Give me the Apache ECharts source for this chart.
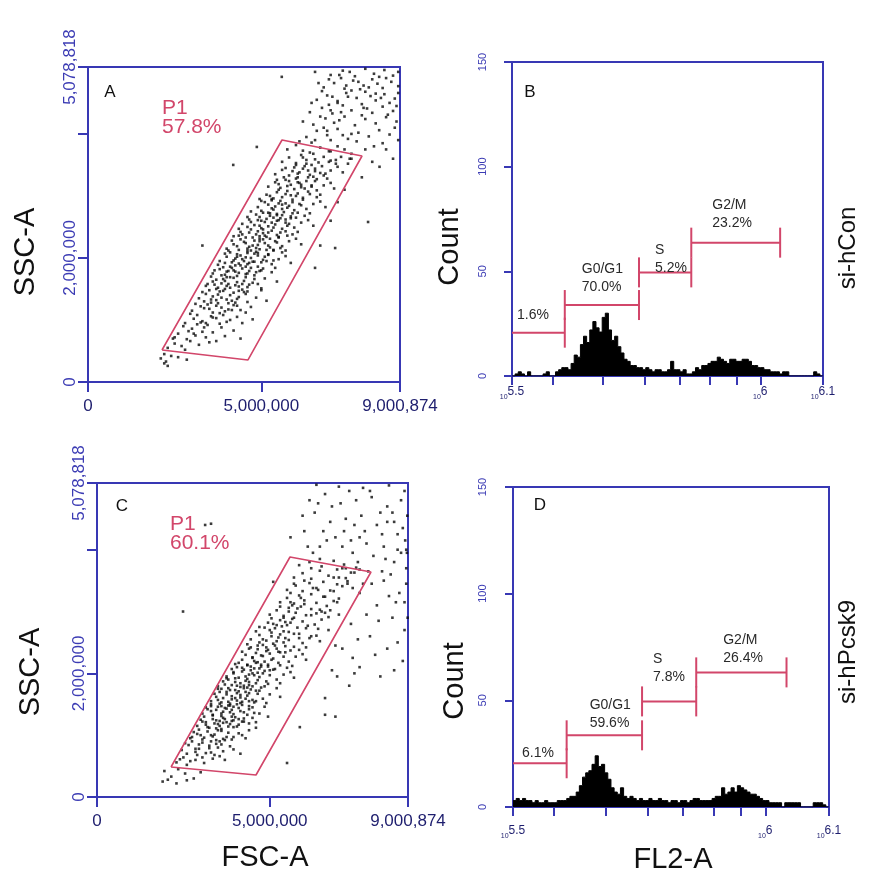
<!DOCTYPE html>
<html><head><meta charset="utf-8">
<script src="https://cdn.jsdelivr.net/npm/echarts@6/dist/echarts.min.js"></script>
<style>html,body{margin:0;padding:0;background:#fff}#c{width:886px;height:874px}</style>
</head><body><div id="c"></div>
<script>
// ---------- Axis ticks / labels (FSC/SSC in millions, FL2 as log10 exponent) ----------
const fscTicks = [0, 5, 9.000874];
const sscTickMarks = [0, 2, 4, 5.078818];
const sscLabels = [0, 2, 5.078818];
const countTicks = [0, 50, 100, 150];
const fl2TickMarks = [5.525, 5.60206, 5.69897, 5.77815, 5.84510, 5.90309, 5.95424, 6.0, 6.12];
const fl2LabelVals = [5.525, 6.0, 6.12];
const fl2LabelText = ['5.5', '6', '6.1'];

// ---------- P1 gates (FSC-A, SSC-A in millions) ----------
const gateA = [[2.135,0.516],[5.597,3.902],[7.905,3.644],[4.616,0.355],[2.135,0.516]];
const gateC = [[2.142,0.485],[5.586,3.882],[7.930,3.639],[4.602,0.356],[2.142,0.485]];

// ---------- Scatter events, panel A (si-hCon) ----------
const aInGate = [
[2.1,0.38],[2.25,0.33],[2.4,0.42],[2.6,0.4],[2.85,0.36],[2.2,0.45],
[2.3,0.55],[2.5,0.62],[2.7,0.58],[2.95,0.66],[3.2,0.6],[2.45,0.7],[3.5,0.64],[2.8,0.52],
[2.6,0.78],[2.9,0.82],[3.1,0.75],[3.35,0.88],[2.75,0.9],[3.6,0.8],[3.0,0.86],[2.5,0.72],
[2.8,0.95],[3.05,1.02],[3.3,0.98],[3.55,1.06],[3.8,0.94],[3.15,1.08],[2.95,1.1],[3.7,1.03],[4.1,1.0],[3.45,0.92],
[3.0,1.15],[3.25,1.22],[3.5,1.18],[3.75,1.27],[3.95,1.14],[3.35,1.3],[3.6,1.12],[4.2,1.24],[3.1,1.26],[3.85,1.2],[4.4,1.16],[3.45,1.25],
[3.2,1.35],[3.4,1.42],[3.6,1.38],[3.8,1.46],[4.0,1.33],[4.2,1.44],[3.5,1.48],[3.7,1.32],[3.95,1.5],[4.35,1.37],[3.3,1.45],[4.55,1.42],[4.1,1.4],[3.85,1.36],
[3.4,1.55],[3.6,1.62],[3.75,1.52],[3.9,1.66],[4.05,1.58],[4.2,1.68],[4.35,1.54],[4.5,1.63],[3.55,1.7],[3.85,1.59],[4.1,1.52],[4.65,1.57],[3.7,1.65],[4.3,1.61],[4.0,1.69],[4.8,1.66],
[3.6,1.75],[3.8,1.82],[3.95,1.73],[4.1,1.86],[4.25,1.78],[4.4,1.88],[4.55,1.74],[4.7,1.84],[3.75,1.89],[4.05,1.79],[4.3,1.71],[4.6,1.9],[4.85,1.77],[3.9,1.85],[4.2,1.8],[4.45,1.83],[5.0,1.8],
[3.8,1.95],[4.0,2.02],[4.15,1.93],[4.3,2.06],[4.45,1.98],[4.6,2.08],[4.75,1.94],[4.9,2.04],[5.05,1.97],[4.1,2.09],[4.35,1.91],[4.55,2.01],[4.85,2.1],[5.2,2.05],[3.95,2.07],[4.25,1.99],[4.7,2.0],[5.35,1.96],
[4.0,2.15],[4.2,2.22],[4.35,2.13],[4.5,2.26],[4.65,2.18],[4.8,2.28],[4.95,2.14],[5.1,2.24],[5.25,2.17],[4.4,2.3],[4.6,2.11],[4.9,2.21],[5.4,2.27],[4.15,2.28],[4.75,2.2],[5.05,2.3],[5.55,2.16],
[4.2,2.35],[4.4,2.42],[4.55,2.33],[4.7,2.46],[4.85,2.38],[5.0,2.48],[5.15,2.34],[5.3,2.44],[5.45,2.37],[4.6,2.5],[4.95,2.31],[5.2,2.41],[5.6,2.47],[4.35,2.47],[5.05,2.4],[5.75,2.36],
[4.45,2.55],[4.65,2.62],[4.8,2.53],[4.95,2.66],[5.1,2.58],[5.25,2.68],[5.4,2.54],[5.55,2.64],[5.7,2.57],[4.85,2.7],[5.2,2.51],[5.5,2.61],[5.85,2.67],[5.0,2.6],[5.35,2.65],
[4.7,2.75],[4.9,2.82],[5.05,2.73],[5.2,2.86],[5.35,2.78],[5.5,2.88],[5.65,2.74],[5.8,2.84],[5.95,2.77],[5.1,2.9],[5.45,2.71],[5.75,2.81],[6.1,2.87],[5.3,2.8],
[4.95,2.95],[5.15,3.02],[5.3,2.93],[5.45,3.06],[5.6,2.98],[5.75,3.08],[5.9,2.94],[6.05,3.04],[6.2,2.97],[5.5,3.1],[5.85,3.01],[6.35,3.07],[5.25,3.0],
[5.2,3.15],[5.4,3.22],[5.55,3.13],[5.7,3.26],[5.85,3.18],[6.0,3.28],[6.15,3.14],[6.3,3.24],[6.45,3.17],[5.65,3.3],[6.1,3.21],[6.6,3.27],[5.95,3.11],
[5.4,3.35],[5.6,3.42],[5.8,3.33],[5.95,3.46],[6.1,3.38],[6.25,3.48],[6.4,3.34],[6.55,3.44],[6.7,3.37],[6.0,3.5],[6.35,3.41],[6.85,3.36],
[5.6,3.55],[5.8,3.62],[6.0,3.53],[6.15,3.66],[6.3,3.58],[6.5,3.68],[6.65,3.54],[6.8,3.63],[7.0,3.57],[6.4,3.7],[7.15,3.52],
[5.75,3.75],[6.0,3.82],[6.2,3.73],[6.45,3.86],[6.7,3.78],[6.95,3.72],[7.2,3.8],[7.4,3.75],[6.1,3.88]
];
const aCore = [
[3.55,1.33],[3.9,1.47],[4.15,1.31],[4.45,1.49],[3.65,1.57],[3.95,1.63],[4.25,1.56],[4.55,1.69],[4.75,1.6],[3.85,1.72],
[4.15,1.84],[4.35,1.76],[4.65,1.79],[4.9,1.86],[4.0,1.78],[4.2,1.96],[4.4,2.04],[4.65,1.92],[4.8,2.07],[5.1,2.02],
[4.5,1.95],[4.3,2.19],[4.55,2.24],[4.7,2.12],[4.95,2.27],[5.2,2.2],[5.35,2.12],[4.45,2.38],[4.75,2.33],[4.9,2.43],
[5.1,2.36],[5.35,2.49],[5.55,2.41],[4.7,2.58],[4.95,2.52],[5.15,2.63],[5.3,2.57],[5.6,2.69],[5.75,2.52],[5.0,2.76],
[5.25,2.72],[5.4,2.83],[5.6,2.79],[5.9,2.72],[5.35,2.96],[5.55,2.92],[5.7,3.03],[6.0,3.0],[5.5,3.19],[5.8,3.24],
[6.05,3.3],[6.25,3.12],[5.7,3.45],[6.05,3.36],[6.3,3.52],[6.55,3.4],[6.2,3.62],[6.55,3.59],[3.35,1.19],[3.6,1.04],
[3.9,1.08],[3.25,0.96],[3.05,0.78],[3.4,0.72],[3.7,1.23],[4.05,1.27],[4.3,1.34],[3.75,1.41],[4.45,1.58],[4.1,1.69],
[4.6,1.75],[5.0,1.93],[4.85,2.16],[5.05,2.46],[5.45,2.6],[5.7,2.88],[6.15,3.18],[6.45,3.5]
];
const aRight = [
[3.7,0.66],[3.95,0.74],[4.2,0.83],[3.85,0.88],[4.4,0.7],
[4.0,0.97],[4.3,1.05],[4.55,1.12],[4.15,1.16],[4.75,1.01],[4.45,0.95],
[4.3,1.23],[4.6,1.29],[4.85,1.36],[4.5,1.45],[5.0,1.48],[4.7,1.21],[5.15,1.31],
[4.6,1.53],[4.9,1.58],[5.1,1.67],[4.8,1.72],[5.3,1.77],[5.0,1.51],[5.45,1.62],[4.95,1.79],
[5.05,1.83],[5.3,1.9],[5.5,1.98],[5.2,2.06],[5.7,2.03],[5.4,1.84],[5.85,1.92],[5.6,2.09],[5.15,1.95],
[5.35,2.13],[5.6,2.19],[5.8,2.27],[5.5,2.34],[6.0,2.31],[5.7,2.12],[6.15,2.22],[5.9,2.38],[5.45,2.25],
[5.7,2.43],[5.95,2.49],[6.15,2.57],[5.85,2.64],[6.35,2.61],[6.05,2.42],[6.5,2.52],[6.25,2.68],[5.8,2.55],
[6.05,2.73],[6.3,2.79],[6.5,2.87],[6.2,2.94],[6.7,2.91],[6.4,2.72],[6.85,2.82],[6.6,2.98],[6.15,2.85],
[6.4,3.03],[6.6,3.09],[6.8,3.17],[6.55,3.24],[7.0,3.21],[6.7,3.02],[7.1,3.12],[6.9,3.28],[6.45,3.15],
[6.8,3.33],[7.0,3.41],[7.2,3.47],[6.95,3.55],[7.35,3.38],[7.5,3.52],[7.15,3.58],
[7.3,3.63],[7.6,3.68],[7.55,3.6],[7.0,3.72]
];
const aFill = [
[3.45,1.58],[3.7,1.5],[4.0,1.55],[4.35,1.47],[4.6,1.46],[3.65,1.8],[3.95,1.92],[4.25,1.88],[4.55,1.86],[4.8,1.94],
[4.05,2.12],[4.3,2.02],[4.6,2.15],[4.9,2.08],[5.15,2.13],[4.35,2.36],[4.65,2.41],[4.95,2.35],[5.25,2.31],[5.5,2.33],
[4.6,2.66],[4.9,2.61],[5.2,2.73],[5.45,2.69],[5.7,2.62],[5.0,2.92],[5.3,2.95],[5.6,2.86],[5.9,2.9],[6.0,2.65],
[5.45,3.26],[5.75,3.16],[6.05,3.22],[6.35,3.3],[5.9,3.4],[6.2,3.44],[6.5,3.31],[6.75,3.48],[3.4,0.95],[3.15,0.93],
[2.85,0.69],[3.3,0.81],[3.8,1.11],[4.05,1.17],[3.55,1.28],[4.25,1.28]
];
const aOutside = [
[6.3,3.95],[6.6,4.05],[6.9,3.98],[7.2,4.08],[7.5,3.92],[7.8,4.02],[8.1,3.96],[8.4,4.06],[6.8,4.1],[7.6,4.0],[8.7,3.99],[7.0,3.9],
[6.2,4.2],[6.5,4.15],[6.85,4.25],[7.1,4.18],[7.4,4.28],[7.7,4.14],[8.0,4.24],[8.3,4.17],[8.6,4.27],[8.9,4.2],[7.25,4.22],[7.9,4.3],[6.7,4.28],
[6.4,4.35],[6.75,4.42],[7.05,4.33],[7.35,4.46],[7.6,4.38],[7.9,4.48],[8.2,4.34],[8.5,4.44],[8.8,4.37],[7.2,4.5],[8.05,4.41],[6.95,4.47],[8.65,4.31],
[6.6,4.55],[6.9,4.62],[7.2,4.53],[7.45,4.66],[7.75,4.58],[8.0,4.68],[8.3,4.54],[8.55,4.64],[8.85,4.57],[7.6,4.7],[8.15,4.61],[6.75,4.69],[8.95,4.66],[7.05,4.6],
[6.8,4.75],[7.1,4.82],[7.4,4.73],[7.65,4.86],[7.95,4.78],[8.2,4.88],[8.5,4.74],[8.75,4.84],[8.95,4.77],[7.3,4.9],[8.35,4.81],[7.85,4.72],
[7.0,4.95],[7.35,5.02],[7.7,4.93],[8.0,5.05],[8.25,4.97],[8.55,5.03],[8.8,4.94],[7.55,5.0],[8.4,4.92],[6.55,5.0],
[6.45,4.5],[6.65,4.82],[7.25,4.95],[7.8,4.84],[8.1,4.75],[8.45,4.58],[8.7,4.5],[8.9,4.45],[8.95,5.0],[8.6,4.9],
[7.95,4.42],[7.5,4.6],[7.3,4.35],[7.0,4.38],[6.9,4.05],[7.35,3.98],[7.75,3.88],[8.25,3.8],[8.6,3.75],[8.85,4.1],
[6.55,3.9],[8.3,4.65],[7.45,4.78],[6.95,4.88],
[6.7,2.2],[7.0,2.6],[7.4,3.1],[7.9,3.3],[8.08,2.58],[8.41,3.47],[7.6,3.6],[8.0,3.75],[8.5,3.85],[8.8,3.6],[7.2,2.9],[6.55,1.84],[8.95,3.9],[8.2,3.55],[7.13,2.16],
[4.19,3.5],[4.87,3.79],[5.59,4.92],[3.3,2.2],[2.2,0.3],[2.3,0.26]
];

// ---------- Scatter events, panel C (si-hPcsk9) ----------
const cInGate = [
[1.95,0.42],[2.15,0.33],[2.35,0.45],[2.55,0.38],[2.8,0.3],[2.05,0.28],[3.0,0.4],
[2.3,0.56],[2.5,0.64],[2.7,0.58],[2.9,0.68],[3.1,0.55],[3.35,0.62],[2.6,0.7],[3.55,0.66],[2.4,0.61],
[2.45,0.76],[2.65,0.84],[2.85,0.73],[3.05,0.88],[3.25,0.79],[3.45,0.86],[3.65,0.74],[2.75,0.9],[3.15,0.71],[3.85,0.82],[2.55,0.87],
[2.7,0.95],[2.9,1.02],[3.05,0.93],[3.2,1.06],[3.35,0.98],[3.5,1.08],[3.65,0.94],[3.8,1.04],[2.95,1.09],[3.3,1.0],[3.95,0.97],[3.6,1.1],[2.8,1.05],[3.45,0.92],[4.1,1.03],
[2.9,1.15],[3.05,1.22],[3.2,1.13],[3.35,1.26],[3.5,1.18],[3.65,1.28],[3.8,1.14],[3.95,1.24],[4.1,1.17],[3.1,1.3],[3.45,1.11],[3.75,1.21],[4.25,1.27],[3.0,1.25],[3.55,1.23],[3.9,1.3],[4.4,1.19],
[3.05,1.35],[3.2,1.42],[3.35,1.33],[3.5,1.46],[3.65,1.38],[3.8,1.48],[3.95,1.34],[4.1,1.44],[4.25,1.37],[3.3,1.5],[3.6,1.31],[3.9,1.41],[4.4,1.47],[3.15,1.45],[3.75,1.43],[4.05,1.5],[4.55,1.36],
[3.3,1.55],[3.45,1.62],[3.6,1.53],[3.75,1.66],[3.9,1.58],[4.05,1.68],[4.2,1.54],[4.35,1.64],[4.5,1.57],[3.55,1.7],[3.85,1.51],[4.15,1.61],[4.65,1.67],[3.4,1.67],[4.0,1.6],[4.3,1.7],
[3.5,1.75],[3.7,1.82],[3.85,1.73],[4.0,1.86],[4.15,1.78],[4.3,1.88],[4.45,1.74],[4.6,1.84],[4.75,1.77],[3.8,1.9],[4.1,1.71],[4.4,1.81],[4.9,1.87],[3.65,1.87],[4.25,1.8],
[3.75,1.95],[3.95,2.02],[4.1,1.93],[4.25,2.06],[4.4,1.98],[4.55,2.08],[4.7,1.94],[4.85,2.04],[5.0,1.97],[4.05,2.1],[4.35,1.91],[4.65,2.01],[5.15,2.07],[4.5,2.0],
[4.0,2.15],[4.2,2.22],[4.35,2.13],[4.5,2.26],[4.65,2.18],[4.8,2.28],[4.95,2.14],[5.1,2.24],[5.25,2.17],[4.3,2.3],[4.75,2.11],[5.4,2.27],[4.55,2.2],
[4.2,2.35],[4.45,2.42],[4.6,2.33],[4.8,2.46],[4.95,2.38],[5.1,2.48],[5.3,2.34],[5.45,2.44],[4.7,2.5],[5.2,2.4],[5.6,2.37],[4.35,2.47],
[4.45,2.55],[4.7,2.62],[4.9,2.53],[5.05,2.66],[5.25,2.58],[5.4,2.68],[5.55,2.54],[5.7,2.64],[5.0,2.7],[5.85,2.57],[4.6,2.68],
[4.7,2.75],[4.95,2.82],[5.15,2.73],[5.3,2.86],[5.5,2.78],[5.65,2.88],[5.8,2.74],[5.95,2.84],[5.4,2.9],[6.1,2.77],[5.05,2.89],
[5.0,2.95],[5.2,3.02],[5.4,2.93],[5.55,3.06],[5.75,2.98],[5.9,3.08],[6.05,2.94],[6.2,3.04],[5.65,3.1],[6.35,2.97],
[5.3,3.15],[5.5,3.22],[5.7,3.13],[5.85,3.26],[6.0,3.18],[6.2,3.28],[6.35,3.14],[6.55,3.24],[5.6,3.3],
[5.5,3.35],[5.75,3.42],[5.95,3.33],[6.15,3.46],[6.35,3.38],[6.55,3.48],[6.75,3.34],[6.95,3.44],
[5.7,3.55],[5.95,3.62],[6.2,3.53],[6.45,3.66],[6.7,3.58],[6.95,3.68],[7.2,3.54],[7.45,3.63],
[5.85,3.75],[6.15,3.8],[6.5,3.73],[6.85,3.82],[7.15,3.76],[7.5,3.71]
];
const cCore = [
[3.1,0.96],[3.4,1.01],[3.6,1.07],[3.25,1.12],[3.55,1.15],[3.85,1.18],[3.15,1.21],[3.45,1.24],[3.7,1.26],[4.0,1.29],
[3.35,1.32],[3.6,1.35],[3.85,1.37],[4.15,1.39],[3.45,1.41],[3.7,1.44],[3.95,1.46],[4.2,1.49],[3.55,1.51],[3.8,1.54],
[4.05,1.56],[4.3,1.59],[3.65,1.6],[3.9,1.63],[4.15,1.65],[4.4,1.68],[3.75,1.7],[4.0,1.73],[4.25,1.76],[4.5,1.79],
[3.9,1.81],[4.15,1.84],[4.4,1.86],[4.65,1.89],[4.0,1.92],[4.3,1.95],[4.55,1.97],[4.8,2.0],[4.2,2.03],[4.45,2.05],
[4.7,2.08],[4.95,2.11],[4.35,2.14],[4.6,2.17],[4.85,2.19],[5.05,2.22],[4.5,2.25],[4.75,2.29],[5.0,2.32],[5.25,2.35],
[4.65,2.39],[4.9,2.42],[5.15,2.45],[5.4,2.5],[4.8,2.55],[5.05,2.6],[5.3,2.63],[5.55,2.67],[5.2,2.78],[5.45,2.83],
[5.7,2.9],[5.55,3.0],[5.8,3.05],[6.0,3.12],[2.95,0.85],[3.25,0.83],[2.85,0.78],[3.55,0.9],[3.0,1.0],[2.75,0.97],
[3.75,0.97],[3.95,1.13],[4.2,1.22],[4.35,1.33],[4.5,1.45],[4.6,1.55],[3.3,1.39],[3.5,1.57],[3.6,1.75],[3.75,1.92],
[3.95,2.0],[4.1,2.17]
];
const cRight = [
[3.4,0.68],[3.7,0.6],[3.95,0.77],[3.6,0.85],[4.15,0.7],
[3.9,0.93],[4.2,1.0],[4.4,1.08],[4.05,1.14],[4.6,1.12],[4.3,0.95],
[4.25,1.22],[4.5,1.28],[4.7,1.35],[4.4,1.42],[4.85,1.46],[4.6,1.21],[4.95,1.3],
[4.55,1.53],[4.8,1.59],[5.0,1.66],[4.7,1.72],[5.2,1.76],[4.9,1.52],[5.3,1.62],[4.85,1.79],
[4.95,1.83],[5.2,1.9],[5.4,1.98],[5.1,2.06],[5.6,2.02],[5.3,1.84],[5.7,1.93],[5.5,2.09],
[5.3,2.13],[5.55,2.19],[5.75,2.27],[5.45,2.34],[5.95,2.31],[5.65,2.12],[6.05,2.22],[5.85,2.38],
[5.7,2.43],[5.95,2.49],[6.15,2.57],[5.85,2.64],[6.35,2.61],[6.05,2.42],[6.45,2.52],
[6.05,2.73],[6.3,2.79],[6.5,2.87],[6.2,2.94],[6.7,2.91],[6.4,2.72],[6.6,2.98],
[6.45,3.03],[6.65,3.09],[6.85,3.17],[6.6,3.24],[7.0,3.21],[6.75,3.02],
[6.85,3.33],[7.1,3.41],[7.25,3.49],[7.0,3.55],[7.4,3.38],
[7.35,3.63],[7.6,3.68],[7.1,3.7]
];
const cFill = [
[2.6,0.52],[2.85,0.6],[3.05,0.64],[3.3,0.72],[2.95,0.78],[3.5,0.8],[3.3,0.9],[3.7,0.92],[3.15,1.17],[3.4,1.19],
[3.65,1.2],[3.9,1.23],[4.1,1.26],[3.3,1.47],[3.6,1.47],[3.85,1.48],[4.15,1.52],[4.4,1.55],[3.5,1.79],[3.8,1.76],
[4.05,1.8],[4.35,1.77],[4.6,1.72],[3.9,2.07],[4.2,2.09],[4.45,2.11],[4.75,2.14],[5.0,2.05],[4.4,2.4],[4.65,2.45],
[4.9,2.36],[5.2,2.52],[5.45,2.57],[4.85,2.74],[5.1,2.8],[5.35,2.76],[5.6,2.82],[5.3,3.08],[5.6,3.15],[5.9,3.22],
[5.7,3.45],[6.0,3.5],[6.25,3.38]
];
const cOutside = [
[6.0,4.3],[6.3,4.6],[6.6,4.9],[6.9,4.2],[7.2,4.5],[7.5,4.8],[7.8,4.1],[8.1,4.4],[8.4,4.7],[8.7,4.0],
[8.9,4.95],[6.45,4.05],[6.75,4.45],[7.05,4.75],[7.35,4.15],[7.65,4.55],[7.95,4.85],[8.25,4.25],[8.55,4.6],[8.85,4.35],
[6.15,4.8],[7.0,5.02],[7.7,5.0],[8.45,5.04],[6.25,3.95],[7.4,3.95],[8.0,3.9],[8.6,3.8],[8.95,3.7],[7.85,3.65],
[8.3,3.5],[8.75,3.3],[7.6,3.3],[8.1,3.1],[8.55,2.9],[8.9,2.7],[7.35,2.8],[7.9,2.6],[8.4,2.4],[8.85,2.2],
[7.1,2.4],[7.6,2.1],[8.2,1.95],[6.8,2.05],[7.3,1.8],[6.6,1.6],[6.9,1.3],[6.6,1.33],[5.87,1.13],[5.5,0.55],
[6.5,3.0],[6.95,3.15],[7.25,3.45],[6.7,2.7],[7.55,2.55],[8.15,2.85],[8.65,3.15],[8.95,3.45],[8.35,3.85],[7.1,4.05],
[6.55,4.3],[5.95,4.55],[6.35,5.05],[5.6,4.2],[5.1,3.48],[2.49,3.0],[3.13,4.4],[3.3,4.42],
[8.98,4.55],[8.92,4.15],[8.97,3.95],[8.9,3.15],[8.99,2.9],[8.8,4.8],[8.6,4.45],[7.75,4.3],[8.3,4.05],[7.45,4.4],
[6.85,3.55],[7.95,3.45],[8.5,3.6],[7.2,3.7],[6.4,3.35],[7.8,2.95],[8.7,2.5],[6.2,2.6],[6.95,1.95],[7.4,2.25],
[7.9,4.95],[8.2,4.6],[7.6,4.2],[6.8,4.7],[7.3,4.95],[8.7,4.25],[8.95,4.0],[6.4,4.75],[6.1,4.05],[7.7,3.45],
[8.45,3.25],[8.05,2.3],[8.6,2.05],[7.45,2.0],[7.0,2.95],[6.9,2.45],[8.8,3.95],[8.4,4.45],[7.15,4.3],[6.65,4.15],
[6.2,3.7],[6.45,3.85],[8.25,3.65],[7.55,3.8],
[1.9,0.25],[2.3,0.22],[2.6,0.27]
];

// ---------- FL2-A histograms (bin = 0.00595 decade from 10^5.525) ----------
const histStart = 5.525;
const histBinW = 0.00595;
const countsB = [
0,1,2,1,0,2,0,0,0,0, 1,2,0,0,2,3,4,4,3,6,
10,9,15,19,16,22,26,23,21,28, 30,22,17,19,14,11,8,7,5,5,
4,4,3,4,3,2,3,3,2,2, 3,7,3,3,2,3,1,1,2,4,
3,5,5,6,7,7,9,8,7,6, 8,8,7,7,8,8,7,5,5,4,
4,3,3,2,2,2,1,2,2,0, 0,0,0,0,0,0,0,2,1,0
];
const countsD = [
3,4,3,4,3,3,2,3,2,2, 3,2,2,2,3,3,3,4,5,5,
7,10,14,16,17,20,24,19,20,16, 13,9,7,6,9,5,4,5,4,3,
4,3,3,4,3,3,4,3,3,2, 3,3,2,3,3,2,3,4,4,3,
3,3,3,4,5,5,9,6,7,9, 7,10,9,8,7,6,6,5,4,3,
3,2,2,2,2,0,2,2,2,2, 2,0,0,0,0,2,2,2,1,0
];

// ---------- Cell-cycle gates (FL2 exponent start/end, marker level in counts) ----------
const gateStartB = [5.525, 5.626, 5.768, 5.868];
const gateEndB   = [5.626, 5.768, 5.868, 6.038];
const gateLevelB = [20.7, 33.9, 49.5, 63.7];
const gateTextB  = ['1.6%', 'G0/G1\n70.0%', 'S\n5.2%', 'G2/M\n23.2%'];
const gateStartD = [5.525, 5.626, 5.768, 5.870];
const gateEndD   = [5.626, 5.768, 5.870, 6.040];
const gateLevelD = [20.5, 33.6, 49.5, 63.1];
const gateTextD  = ['6.1%', 'G0/G1\n59.6%', 'S\n7.8%', 'G2/M\n26.4%'];

// ---------- styles ----------
const FONT = '"Liberation Sans", Arial, sans-serif';
const AXIS_BLUE = '#3838b4';
const YLAB_BLUE = '#3c3cb4';
const XLAB_NAVY = '#1e1e6e';
const GATE_RED = '#d2466a';
const labelOffB = [[5,-18],[17,-27],[16,-13.5],[21,-29]];
const labelOffD = [[9,-10],[23,-21.5],[11,-33.5],[27,-23.5]];

function fmtBig(v){ return v === 0 ? '0' : Math.round(v*1e6).toLocaleString('en-US'); }
function fmtFl2(v){
  let best = 0;
  for (let i = 1; i < fl2LabelVals.length; i++) if (Math.abs(fl2LabelVals[i]-v) < Math.abs(fl2LabelVals[best]-v)) best = i;
  return '{s|10}{b|' + fl2LabelText[best] + '}';
}
function histData(counts){
  const d = counts.map((c,i) => [histStart + i*histBinW, c]);
  d.push([histStart + counts.length*histBinW, counts[counts.length-1]]);
  return d;
}
function gateData(s,e,l){ return s.map((v,i) => [v, e[i], l[i]]); }

const grids = [
  {left:88, top:67, width:312, height:315},
  {left:512, top:62, width:311, height:314},
  {left:97, top:483, width:311, height:314},
  {left:513, top:487, width:316, height:320}
].map(g => Object.assign(g, {show:true, borderColor:AXIS_BLUE, borderWidth:2, backgroundColor:'transparent'}));

function scatterX(gi){
  return {gridIndex:gi, type:'value', min:0, max:9.000874,
    axisLine:{show:true, onZero:false, lineStyle:{color:AXIS_BLUE, width:2}},
    axisTick:{show:true, customValues:fscTicks, length:10, lineStyle:{color:AXIS_BLUE, width:2}},
    axisLabel:{customValues:fscTicks, formatter:fmtBig, color:XLAB_NAVY, fontSize:17, fontFamily:FONT, margin:16},
    splitLine:{show:false}};
}
function scatterY(gi){
  return {gridIndex:gi, type:'value', min:0, max:5.078818,
    axisLine:{show:true, onZero:false, lineStyle:{color:AXIS_BLUE, width:2}},
    axisTick:{show:true, customValues:sscTickMarks, length:10, lineStyle:{color:AXIS_BLUE, width:2}},
    axisLabel:{customValues:sscLabels, formatter:fmtBig, rotate:90, color:YLAB_BLUE, fontSize:17, fontFamily:FONT, margin:9},
    splitLine:{show:false}};
}
function histX(gi, margin){
  return {gridIndex:gi, type:'value', min:5.525, max:6.12,
    axisLine:{show:true, onZero:false, lineStyle:{color:AXIS_BLUE, width:2}},
    axisTick:{show:true, customValues:fl2TickMarks, length:9, lineStyle:{color:AXIS_BLUE, width:2}},
    axisLabel:{customValues:fl2LabelVals, formatter:fmtFl2, margin:margin, color:XLAB_NAVY,
      rich:{s:{fontSize:7, fontFamily:FONT, color:XLAB_NAVY, lineHeight:8, verticalAlign:'bottom'},
            b:{fontSize:12, fontFamily:FONT, color:XLAB_NAVY, lineHeight:15, verticalAlign:'top'}}},
    splitLine:{show:false}};
}
function histY(gi, margin){
  return {gridIndex:gi, type:'value', min:0, max:150,
    axisLine:{show:true, onZero:false, lineStyle:{color:AXIS_BLUE, width:2}},
    axisTick:{show:true, customValues:countTicks, length:8, lineStyle:{color:AXIS_BLUE, width:2}},
    axisLabel:{customValues:countTicks, rotate:90, color:YLAB_BLUE, fontSize:11, fontFamily:FONT, margin:margin},
    splitLine:{show:false}};
}

function scatterSeries(idx, pts){
  return {type:'scatter', xAxisIndex:idx, yAxisIndex:idx, data:pts, symbol:'rect', symbolSize:2.6,
    itemStyle:{color:'#0a0a0a'}, silent:true, z:2};
}
function gateSeries(idx, pts){
  return {type:'line', xAxisIndex:idx, yAxisIndex:idx, data:pts, symbol:'none', silent:true, z:4,
    lineStyle:{color:GATE_RED, width:1.6}};
}
function histSeries(idx, counts){
  return {type:'line', xAxisIndex:idx, yAxisIndex:idx, data:histData(counts), step:'end', symbol:'none', silent:true, z:2,
    lineStyle:{color:'#000', width:1}, areaStyle:{color:'#000', opacity:1}};
}
function cycleGateSeries(idx, data, texts, offs){
  return {type:'custom', xAxisIndex:idx, yAxisIndex:idx, data:data, silent:true, z:5, clip:false,
    renderItem:function(params, api){
      const i = params.dataIndex;
      const s = api.coord([api.value(0), api.value(2)]);
      const e = api.coord([api.value(1), api.value(2)]);
      const h = 15;
      const st = {stroke:GATE_RED, lineWidth:2};
      const ch = [
        {type:'line', shape:{x1:s[0], y1:s[1], x2:e[0], y2:e[1]}, style:st},
        {type:'line', shape:{x1:e[0], y1:e[1]-h, x2:e[0], y2:e[1]+h}, style:st},
        {type:'text', x:s[0]+offs[i][0], y:s[1]+offs[i][1],
          style:{text:texts[i], fill:'#2a2a2a', fontSize:14, fontFamily:FONT, align:'left', verticalAlign:'middle', lineHeight:18}}
      ];
      if (i > 0) ch.push({type:'line', shape:{x1:s[0], y1:s[1]-h, x2:s[0], y2:s[1]+h}, style:st});
      return {type:'group', children:ch};
    }};
}

function txt(x, y, text, size, opts){
  return Object.assign({type:'text', x:x, y:y, silent:true,
    style:{text:text, fontSize:size, fontFamily:FONT, fill:'#111', align:'center', verticalAlign:'middle'}}, opts || {});
}
const R90 = Math.PI/2;
const graphics = [
  txt(26, 252, 'SSC-A', 29, {rotation:R90}),
  txt(31, 672, 'SSC-A', 29, {rotation:R90}),
  txt(450, 247, 'Count', 29, {rotation:R90}),
  txt(455, 681, 'Count', 29, {rotation:R90}),
  txt(265, 858, 'FSC-A', 29),
  txt(673, 860, 'FL2-A', 29),
  txt(848, 248, 'si-hCon', 24, {rotation:R90}),
  txt(848, 652, 'si-hPcsk9', 24, {rotation:R90}),
  txt(110, 92, 'A', 17),
  txt(530, 92, 'B', 17),
  txt(122, 506, 'C', 17),
  txt(540, 505, 'D', 17),
  {type:'text', x:162, y:118, silent:true, style:{text:'P1\n57.8%', fontSize:21, fontFamily:FONT, fill:GATE_RED, align:'left', verticalAlign:'middle', lineHeight:19}},
  {type:'text', x:170, y:534, silent:true, style:{text:'P1\n60.1%', fontSize:21, fontFamily:FONT, fill:GATE_RED, align:'left', verticalAlign:'middle', lineHeight:19}}
];

const chart = echarts.init(document.getElementById('c'), null, {renderer:'canvas'});
chart.setOption({
  animation:false,
  backgroundColor:'#fff',
  grid:grids,
  xAxis:[scatterX(0), histX(1, 10), scatterX(2), histX(3, 18)],
  yAxis:[scatterY(0), histY(1, 24), scatterY(2), histY(3, 25)],
  series:[
    scatterSeries(0, aInGate.concat(aCore, aRight, aFill, aOutside)),
    gateSeries(0, gateA),
    histSeries(1, countsB),
    cycleGateSeries(1, gateData(gateStartB, gateEndB, gateLevelB), gateTextB, labelOffB),
    scatterSeries(2, cInGate.concat(cCore, cRight, cFill, cOutside)),
    gateSeries(2, gateC),
    histSeries(3, countsD),
    cycleGateSeries(3, gateData(gateStartD, gateEndD, gateLevelD), gateTextD, labelOffD)
  ],
  graphic:graphics
});
</script></body></html>
